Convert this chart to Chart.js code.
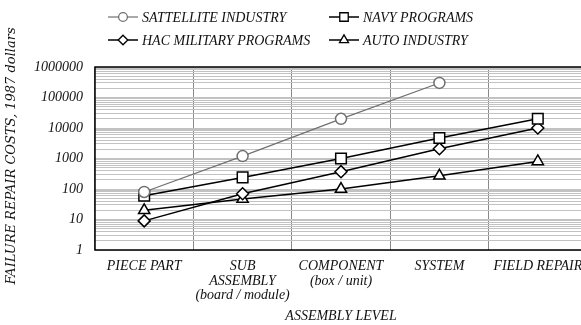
<!DOCTYPE html>
<html>
<head>
<meta charset="utf-8">
<script src="https://cdn.jsdelivr.net/npm/chart.js@4/dist/chart.umd.min.js"></script>
<style>
  html, body { margin: 0; padding: 0; background: #fff; overflow: hidden; }
  #wrap { width: 596px; height: 325px; }
</style>
</head>
<body>
<div id="wrap"><canvas id="c" width="596" height="325"></canvas></div>
<script>
// Assembly levels along the x axis (multi-line labels)
const levels = [
  'PIECE PART',
  ['SUB', 'ASSEMBLY', '(board / module)'],
  ['COMPONENT', '(box / unit)'],
  'SYSTEM',
  'FIELD REPAIR'
];

// Failure repair costs, 1987 dollars
const satelliteIndustry = [80, 1200, 20000, 300000, null];
const navyPrograms      = [60, 240, 1000, 4700, 20000];
const hacMilitary       = [9, 70, 370, 2100, 10000];
const autoIndustry      = [20, 47, 100, 270, 800];

// Decade tick labels on the cost axis
const costTicks = ['1', '10', '100', '1000', '10000', '100000', '1000000'];

const FONT = 'Liberation Serif';
const fontSpec = { family: FONT, size: 14, style: 'italic', lineHeight: 1.05 };

const ds = (label, data, style, color, width, radius) => ({
  label, data,
  borderColor: color,
  borderWidth: width,
  pointStyle: style,
  pointRadius: radius,
  pointHoverRadius: radius,
  pointBackgroundColor: '#fff',
  pointBorderColor: color,
  pointBorderWidth: 1.5,
  fill: false,
  tension: 0,
  spanGaps: false
});

const datasets = [
  ds('SATTELLITE INDUSTRY', satelliteIndustry, 'circle', '#707070', 1.2, 5.5),
  ds('NAVY PROGRAMS', navyPrograms, 'rect', '#000', 1.5, 7.5),
  ds('HAC MILITARY PROGRAMS', hacMilitary, 'rectRot', '#000', 1.5, 6),
  ds('AUTO INDUSTRY', autoIndustry, 'triangle', '#000', 1.5, 6.5)
];

// Legend in a two-column grid, plot frame, and rotated y title
const decor = {
  id: 'decor',
  beforeDatasetsDraw(chart) {
    const { ctx, chartArea: a } = chart;
    ctx.save();
    ctx.strokeStyle = '#000';
    ctx.lineWidth = 1.5;
    ctx.beginPath();
    ctx.moveTo(a.right + 2, a.top);
    ctx.lineTo(a.left, a.top);
    ctx.lineTo(a.left, a.bottom);
    ctx.lineTo(a.right + 2, a.bottom);
    ctx.stroke();
    ctx.restore();
  },
  afterDraw(chart) {
    const { ctx } = chart;
    ctx.save();
    const slots = [
      { x: 108, y: 17 }, { x: 329, y: 17 },
      { x: 108, y: 40 }, { x: 329, y: 40 }
    ];
    chart.data.datasets.forEach((d, i) => {
      const s = slots[i];
      ctx.strokeStyle = d.borderColor;
      ctx.lineWidth = d.borderWidth;
      ctx.beginPath();
      ctx.moveTo(s.x, s.y);
      ctx.lineTo(s.x + 30, s.y);
      ctx.stroke();
      ctx.fillStyle = '#fff';
      ctx.strokeStyle = d.pointBorderColor;
      ctx.lineWidth = 1.3;
      Chart.helpers.drawPoint(ctx, { pointStyle: d.pointStyle, radius: d.pointRadius * 0.8, rotation: 0, borderWidth: 1.3 }, s.x + 15, s.y);
      ctx.fillStyle = '#111';
      ctx.font = 'italic 14px "' + FONT + '"';
      ctx.textBaseline = 'middle';
      ctx.textAlign = 'left';
      ctx.fillText(d.label, s.x + 34, s.y + 1);
    });
    // y axis title
    ctx.translate(12, 156);
    ctx.rotate(-Math.PI / 2);
    ctx.textAlign = 'center';
    ctx.textBaseline = 'middle';
    ctx.fillStyle = '#111';
    ctx.font = 'italic 13px "DejaVu Serif"';
    ctx.fillText('FAILURE REPAIR COSTS, 1987 dollars', 0, 0);
    ctx.restore();
  }
};

new Chart(document.getElementById('c'), {
  type: 'line',
  data: { labels: levels, datasets },
  options: {
    responsive: false,
    animation: false,
    layout: { padding: { top: 67, left: 0, right: 0, bottom: 0 } },
    plugins: { legend: { display: false }, tooltip: { enabled: false } },
    scales: {
      x: {
        type: 'category',
        offset: true,
        grid: { offset: true, color: '#8a8a8a', lineWidth: 1, drawTicks: false },
        border: { display: false },
        ticks: { color: '#111', font: fontSpec, padding: 9, maxRotation: 0, autoSkip: false },
        title: { display: true, text: 'ASSEMBLY LEVEL', color: '#111', font: { family: FONT, size: 14, style: 'italic' }, padding: { top: 0, bottom: 0 } },
        afterFit(s) { s.height = 75; }
      },
      y: {
        type: 'logarithmic',
        min: 1,
        max: 1000000,
        border: { display: false },
        grid: { drawTicks: false, color: '#c2c2c2', lineWidth: 1 },
        afterBuildTicks(s) {
          const t = [];
          costTicks.forEach((lab, k) => {
            const base = Number(lab);
            const top = k === costTicks.length - 1 ? 1 : 9;
            for (let m = 1; m <= top; m++) t.push({ value: base * m });
          });
          s.ticks = t;
        },
        ticks: {
          autoSkip: false,
          color: '#111',
          font: fontSpec,
          padding: 12,
          callback(v) { const s = String(v); return costTicks.includes(s) ? s : ''; }
        },
        afterFit(s) { s.width = 95; }
      }
    }
  },
  plugins: [decor]
});
</script>
</body>
</html>
